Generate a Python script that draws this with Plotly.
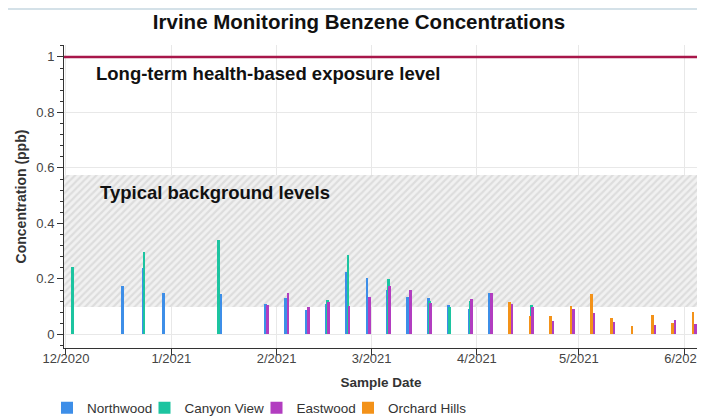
import plotly.graph_objects as go
import pandas as pd

# ---------------- data ----------------
sites = ["Northwood", "Canyon View", "Eastwood", "Orchard Hills"]
site_colors = ["#3d8ee8", "#1cc4a0", "#b23dc0", "#f39219"]

nw_dates = ["2020-12-18", "2020-12-24", "2020-12-30", "2021-01-16", "2021-01-29",
            "2021-02-04", "2021-02-10", "2021-02-16", "2021-02-22", "2021-02-28",
            "2021-03-06", "2021-03-12", "2021-03-18", "2021-03-24", "2021-03-30",
            "2021-04-05"]
nw_vals = [0.174, 0.238, 0.150, 0.144, 0.109, 0.132, 0.088, 0.110, 0.226, 0.204,
           0.160, 0.136, 0.132, 0.106, 0.090, 0.151]

cv_dates = ["2020-12-03", "2020-12-24", "2021-01-15", "2021-02-16", "2021-02-22",
            "2021-03-06", "2021-03-18", "2021-03-24", "2021-03-30", "2021-04-17"]
cv_vals = [0.244, 0.297, 0.340, 0.124, 0.286, 0.199, 0.120, 0.097, 0.121, 0.106]

ew_dates = ["2021-01-29", "2021-02-04", "2021-02-10", "2021-02-16", "2021-02-22",
            "2021-02-28", "2021-03-06", "2021-03-12", "2021-03-18", "2021-03-30",
            "2021-04-05", "2021-04-11", "2021-04-17", "2021-04-23", "2021-04-29",
            "2021-05-05", "2021-05-11", "2021-05-23", "2021-05-29", "2021-06-04"]
ew_vals = [0.105, 0.150, 0.097, 0.118, 0.102, 0.136, 0.174, 0.160, 0.114, 0.127,
           0.151, 0.109, 0.097, 0.048, 0.091, 0.078, 0.043, 0.035, 0.053, 0.037]

oh_dates = ["2021-04-11", "2021-04-17", "2021-04-23", "2021-04-29", "2021-05-05",
            "2021-05-11", "2021-05-17", "2021-05-23", "2021-05-29", "2021-06-04"]
oh_vals = [0.118, 0.066, 0.066, 0.102, 0.145, 0.058, 0.031, 0.070, 0.040, 0.080]

health_level = 1.0
background_low = 0.1
background_high = 0.575

x_range = ["2020-11-30 10:00", "2021-06-05 02:00"]
y_range = [-0.049, 1.043]

# ---------------- figure ----------------
DAY_MS = 86400000
bar_w = 0.8 * DAY_MS
site_shift = [-0.35, 0.0, 0.35, -0.35]  # dodge (days)

x0 = pd.Timestamp(x_range[0])
x1 = pd.Timestamp(x_range[1])
band_mid = x0 + (x1 - x0) / 2
band_width_ms = (x1 - x0).total_seconds() * 1000

fig = go.Figure()

# hatched background band (drawn first so the bars sit on top)
fig.add_trace(go.Bar(
    x=[band_mid], y=[background_high - background_low], base=[background_low],
    width=[band_width_ms], showlegend=False, hoverinfo="skip",
    marker=dict(color="#f1f1f1", line_width=0,
                pattern=dict(shape="/", fgcolor="#c9c9c9", bgcolor="#f1f1f1",
                             size=5, solidity=0.45))))

legend_ids = ["legend", "legend2", "legend3", "legend4"]
series = [(nw_dates, nw_vals), (cv_dates, cv_vals), (ew_dates, ew_vals), (oh_dates, oh_vals)]
for (dts, vals), name, col, sh, lg in zip(series, sites, site_colors, site_shift, legend_ids):
    fig.add_trace(go.Bar(
        x=pd.to_datetime(dts), y=vals, name=name, marker_color=col,
        marker_line_width=0, width=bar_w, offset=sh * DAY_MS - bar_w / 2, legend=lg))

fig.add_shape(type="line", xref="paper", x0=0, x1=1, yref="y", y0=health_level, y1=health_level,
              line=dict(color="#a8174a", width=2.5))

# white panel behind the chart (thin blue-grey strip left above it)
fig.add_shape(type="rect", xref="paper", yref="paper", x0=-0.1, x1=1.034, y0=-0.27, y1=1.1155,
              fillcolor="white", line_width=0, layer="below")

fig.add_annotation(text="<b>Long-term health-based exposure level</b>", xref="paper", x=0.048,
                   yref="y", y=0.942, xanchor="left", yanchor="middle", showarrow=False,
                   font=dict(size=18.5, color="#111111"))
fig.add_annotation(text="<b>Typical background levels</b>", xref="paper", x=0.053,
                   yref="y", y=0.51, xanchor="left", yanchor="middle", showarrow=False,
                   font=dict(size=18.5, color="#111111"))

ML, MR, MT, MB = 56, 15, 37, 79
PW = 705 - ML - MR
legend_fig_x = [39, 136.5, 248.5, 340]  # left edge of each legend box (figure px)
legend_style = dict(orientation="h", xanchor="left", y=-0.198, yanchor="middle",
                    font=dict(size=13.5, color="#333333"), bgcolor="rgba(0,0,0,0)")
legends = {lg: dict(legend_style, x=(px - ML) / PW) for lg, px in zip(legend_ids, legend_fig_x)}

fig.update_layout(
    width=705, height=419,
    margin=dict(l=ML, r=MR, t=MT, b=MB, autoexpand=False),
    paper_bgcolor="#d4e1e8", plot_bgcolor="white",
    font=dict(family="Liberation Sans, Arial, sans-serif", size=13, color="#444444"),
    title=dict(text="<b>Irvine Monitoring Benzene Concentrations</b>", xref="container",
               x=351 / 705, xanchor="center", yref="container", y=1 - 14 / 419, yanchor="middle",
               font=dict(size=20.5, color="#111111")),
    barmode="overlay", bargap=0,
    showlegend=True,
    xaxis=dict(range=x_range, type="date", dtick="M1", tick0="2020-12-01", tickformat="%-m/%Y",
               automargin=False, ticklabelstandoff=-8,
               showgrid=True, gridcolor="#e8e8e8", gridwidth=1,
               showline=True, linecolor="#333333", linewidth=1,
               ticks="outside", ticklen=6, tickcolor="#333333",
               title=dict(text="<b>Sample Date</b>", standoff=12,
                          font=dict(size=13.5, color="#333333"))),
    yaxis=dict(range=y_range, tickvals=[0, 0.2, 0.4, 0.6, 0.8, 1.0],
               ticktext=["0", "0.2", "0.4", "0.6", "0.8", "1"],
               automargin=False,
               showgrid=True, gridcolor="#e8e8e8", gridwidth=1, zeroline=False,
               showline=True, linecolor="#333333", linewidth=1,
               ticks="outside", ticklen=6, tickcolor="#333333",
               minor=dict(dtick=0.04, tick0=0, ticks="outside", ticklen=3, tickcolor="#333333",
                          showgrid=False),
               title=dict(text="<b>Concentration (ppb)</b>", standoff=6,
                          font=dict(size=14, color="#333333"))),
    **legends,
)

fig.write_html("out.html")
